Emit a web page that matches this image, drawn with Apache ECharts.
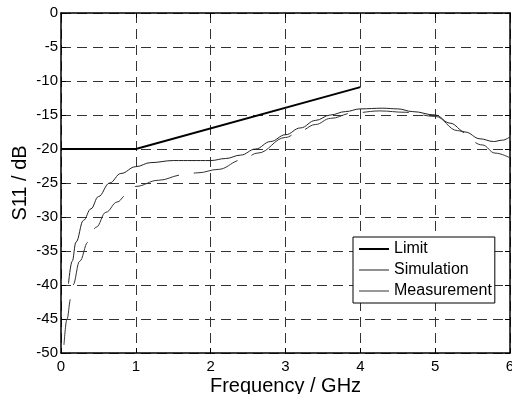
<!DOCTYPE html>
<html>
<head>
<meta charset="utf-8">
<script src="https://cdn.jsdelivr.net/npm/echarts@6/dist/echarts.min.js"></script>
<style>
html,body{margin:0;padding:0;background:#fff;}
#c{width:512px;height:394px;}
</style>
</head>
<body>
<div id="c"></div>
<script>
var seriesNames = ['Limit', 'Simulation', 'Measurement'];
var xTicks = [0, 1, 2, 3, 4, 5, 6];
var yTicks = [0, -5, -10, -15, -20, -25, -30, -35, -40, -45, -50];

var limitFreq = [0, 1, 4];
var limitDb = [-20, -20, -10.9];

var simFreq = [0.1, 0.15, 0.2, 0.3, 0.4, 0.5, 0.65, 0.8, 1.0, 1.2, 1.5, 2.0, 2.2, 2.4, 2.6, 2.8, 3.0, 3.2, 3.4, 3.6, 3.8, 4.0, 4.3, 4.5, 4.7, 5.0, 5.2, 5.4, 5.6, 5.78, 5.9, 6.0];
var simDb = [-39.8, -36.5, -33.7, -30.5, -28.8, -27.0, -25.0, -23.6, -22.6, -22.0, -21.7, -21.7, -21.4, -20.9, -20.0, -18.9, -17.9, -16.9, -15.8, -15.0, -14.5, -14.1, -14.0, -14.1, -14.5, -15.0, -16.2, -17.5, -18.5, -18.9, -18.7, -18.2];

var measFreq = [0.04, 0.08, 0.13, 0.16, 0.25, 0.36, 0.47, 0.6, 0.75, 0.87, 1.0, 1.3, 1.63, 1.83, 2.1, 2.42, 2.63, 3.0, 3.2, 3.4, 3.6, 3.9, 4.26, 4.6, 5.0, 5.3, 5.63, 5.8, 6.0];
var measDb = [-48.8, -45.0, -42.0, -40.0, -36.5, -33.7, -31.5, -29.3, -27.8, -26.8, -25.5, -24.6, -23.8, -23.5, -23.0, -21.6, -20.6, -18.3, -17.3, -16.4, -15.5, -14.7, -14.4, -14.6, -15.2, -17.3, -19.4, -20.6, -21.3];

function pairs(xs, ys) { return xs.map(function (x, i) { return [x, ys[i]]; }); }

var FONT = '"Liberation Sans", Arial, sans-serif';
var gridLine = { show: true, lineStyle: { color: '#333', width: 1, type: [10, 6] } };

var chart = echarts.init(document.getElementById('c'), null, { renderer: 'canvas' });
chart.setOption({
  animation: false,
  backgroundColor: '#fff',
  grid: { left: 61, right: 2, top: 13, bottom: 41, containLabel: false, outerBoundsMode: 'none' },
  legend: {
    data: [
      { name: seriesNames[0], icon: 'path://M0,0 H30 V2 H0 Z' },
      { name: seriesNames[1], icon: 'path://M0,0 H30 V1 H0 Z' },
      { name: seriesNames[2], icon: 'path://M0,0 H30 V1 H0 Z' }
    ],
    orient: 'vertical',
    left: 353, top: 237,
    itemWidth: 30, itemHeight: 16, itemGap: 5,
    padding: [4, 3, 4, 6],
    borderColor: '#000', borderWidth: 1, backgroundColor: '#fff',
    textStyle: { fontFamily: FONT, fontSize: 16, color: '#000' }
  },
  xAxis: [{
    type: 'value', min: xTicks[0], max: xTicks[xTicks.length - 1], interval: 1,
    position: 'bottom',
    name: 'Frequency / GHz', nameLocation: 'middle', nameGap: 23, nameMoveOverlap: false,
    nameTextStyle: { fontFamily: FONT, fontSize: 20, color: '#000' },
    axisLine: { show: true, onZero: false, lineStyle: { color: '#000', width: 1.5 } },
    axisTick: { show: true, inside: true, length: 5, lineStyle: { color: '#000' } },
    axisLabel: { fontFamily: FONT, fontSize: 15, color: '#000', margin: 6 },
    splitLine: gridLine
  }, {
    type: 'value', min: xTicks[0], max: xTicks[xTicks.length - 1], interval: 1,
    position: 'top',
    axisLine: { show: true, onZero: false, lineStyle: { color: '#000', width: 1.5 } },
    axisTick: { show: true, inside: true, length: 5, lineStyle: { color: '#000' } },
    axisLabel: { show: false }, splitLine: { show: false }
  }],
  yAxis: [{
    type: 'value', min: yTicks[yTicks.length - 1], max: yTicks[0], interval: 5,
    position: 'left',
    name: 'S11 / dB', nameLocation: 'middle', nameGap: 31, nameMoveOverlap: false,
    nameTextStyle: { fontFamily: FONT, fontSize: 20, color: '#000' },
    axisLine: { show: true, onZero: false, lineStyle: { color: '#000', width: 1.5 } },
    axisTick: { show: true, inside: true, length: 5, lineStyle: { color: '#000' } },
    axisLabel: { fontFamily: FONT, fontSize: 15, color: '#000', margin: 3 },
    splitLine: gridLine
  }, {
    type: 'value', min: yTicks[yTicks.length - 1], max: yTicks[0], interval: 5,
    position: 'right',
    axisLine: { show: true, onZero: false, lineStyle: { color: '#000', width: 1.5 } },
    axisTick: { show: true, inside: true, length: 5, lineStyle: { color: '#000' } },
    axisLabel: { show: false }, splitLine: { show: false }
  }],
  series: [{
    name: seriesNames[0], type: 'line', data: pairs(limitFreq, limitDb),
    symbol: 'none', color: '#000',
    lineStyle: { color: '#000', width: 2 }
  }, {
    name: seriesNames[1], type: 'line', data: pairs(simFreq, simDb),
    symbol: 'none', smooth: 0.4, smoothMonotone: 'x', color: '#222',
    lineStyle: { color: '#222', width: 1 }
  }, {
    name: seriesNames[2], type: 'line', data: pairs(measFreq, measDb),
    symbol: 'none', smooth: 0.4, smoothMonotone: 'x', color: '#333',
    lineStyle: { color: '#333', width: 1, type: [46, 15] }
  }]
});
</script>
</body>
</html>
